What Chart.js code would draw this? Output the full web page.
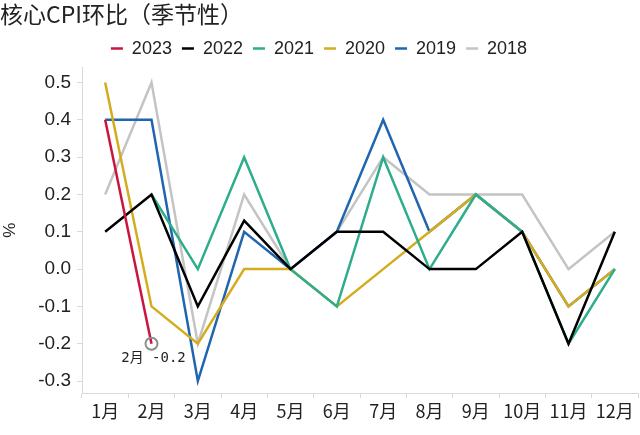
<!DOCTYPE html>
<html>
<head>
<meta charset="utf-8">
<script src="https://cdn.jsdelivr.net/npm/chart.js@4"></script>
<style>
  html, body { margin: 0; padding: 0; background: #fff; }
  #wrap { width: 640px; height: 435px; }
</style>
</head>
<body>
<div id="wrap"><canvas id="cpiChart" width="640" height="435"></canvas></div>
<script>
// data
const months = ["1月", "2月", "3月", "4月", "5月", "6月", "7月", "8月", "9月", "10月", "11月", "12月"];
const y2023 = [0.4, -0.2, null, null, null, null, null, null, null, null, null, null];
const y2022 = [0.1, 0.2, -0.1, 0.13, 0.0, 0.1, 0.1, 0.0, 0.0, 0.1, -0.2, 0.1];
const y2021 = [null, 0.2, 0.0, 0.3, 0.0, -0.1, 0.3, 0.0, 0.2, 0.1, -0.2, 0.0];
const y2020 = [0.5, -0.1, -0.2, 0.0, 0.0, -0.1, 0.0, 0.1, 0.2, 0.1, -0.1, 0.0];
const y2019 = [0.4, 0.4, -0.3, 0.1, 0.0, 0.1, 0.4, 0.1, 0.2, 0.1, -0.1, 0.0];
const y2018 = [0.2, 0.5, -0.2, 0.2, 0.0, 0.1, 0.3, 0.2, 0.2, 0.2, 0.0, 0.1];
const seriesNames = ["2023", "2022", "2021", "2020", "2019", "2018"];
const seriesColors = ["#c8163f", "#000000", "#2ead8c", "#d4ac1e", "#2065b0", "#c4c4c4"];
const yTicks = [-0.3, -0.2, -0.1, 0.0, 0.1, 0.2, 0.3, 0.4, 0.5];
const noteIndex = 1; // 2月 point of 2023

const cjk = "'Noto Sans CJK SC', sans-serif";
const num = "'Liberation Sans', 'Noto Sans CJK SC', sans-serif";

// circle + label on the last 2023 point
const notePlugin = {
  id: "note",
  afterDatasetsDraw(chart) {
    const pt = chart.getDatasetMeta(0).data[noteIndex];
    const ctx = chart.ctx;
    ctx.save();
    ctx.strokeStyle = "#8c8c8c";
    ctx.lineWidth = 2;
    ctx.beginPath();
    ctx.arc(pt.x, pt.y, 6, 0, Math.PI * 2);
    ctx.stroke();
    ctx.fillStyle = "#222";
    ctx.font = "14px 'DejaVu Sans Mono', 'Noto Sans CJK SC', monospace";
    ctx.textAlign = "center";
    ctx.textBaseline = "middle";
    ctx.fillText(months[noteIndex] + " " + y2023[noteIndex].toFixed(1), pt.x + 2, pt.y + 15);
    ctx.restore();
  }
};

const allSeries = [y2023, y2022, y2021, y2020, y2019, y2018];

new Chart(document.getElementById("cpiChart"), {
  type: "line",
  data: {
    labels: months,
    datasets: allSeries.map((vals, i) => ({
      label: seriesNames[i],
      data: vals,
      borderColor: seriesColors[i],
      backgroundColor: seriesColors[i],
      borderWidth: 2.5,
      pointRadius: 0,
      tension: 0,
      spanGaps: false
    }))
  },
  options: {
    responsive: false,
    animation: false,
    layout: { padding: { left: 0, right: 2, top: 0, bottom: 0 } },
    plugins: {
      title: {
        display: true,
        text: "核心CPI环比（季节性）",
        align: "start",
        color: "#222",
        font: { family: cjk, size: 23, weight: "normal" },
        padding: { top: 0, bottom: 2 }
      },
      legend: {
        display: true,
        labels: {
          usePointStyle: true,
          pointStyle: "line",
          pointStyleWidth: 12,
          color: "#222",
          font: { family: num, size: 18 },
          padding: 10
        }
      },
      tooltip: { enabled: false }
    },
    scales: {
      x: {
        offset: true,
        afterFit(scale) { scale.height = 42; },
        grid: { offset: true, drawOnChartArea: false, drawTicks: true, tickLength: 5, color: "#d9d9d9" },
        border: { color: "#d9d9d9" },
        ticks: { color: "#222", font: { family: cjk, size: 18 }, maxRotation: 0, autoSkip: false, padding: 2 }
      },
      y: {
        min: -0.332,
        max: 0.54,
        afterFit(scale) { scale.width = 82; },
        afterBuildTicks(axis) {
          axis.ticks = yTicks.map(v => ({ value: v }));
        },
        grid: { drawOnChartArea: false, drawTicks: true, tickLength: 5, color: "#d9d9d9" },
        border: { color: "#d9d9d9" },
        ticks: {
          color: "#222",
          font: { family: num, size: 19 },
          padding: 6,
          callback: v => v.toFixed(1)
        },
        title: {
          display: true,
          text: "%",
          color: "#222",
          font: { family: num, size: 17 },
          padding: { top: 0, bottom: 14 }
        }
      }
    }
  },
  plugins: [notePlugin]
});
</script>
</body>
</html>
